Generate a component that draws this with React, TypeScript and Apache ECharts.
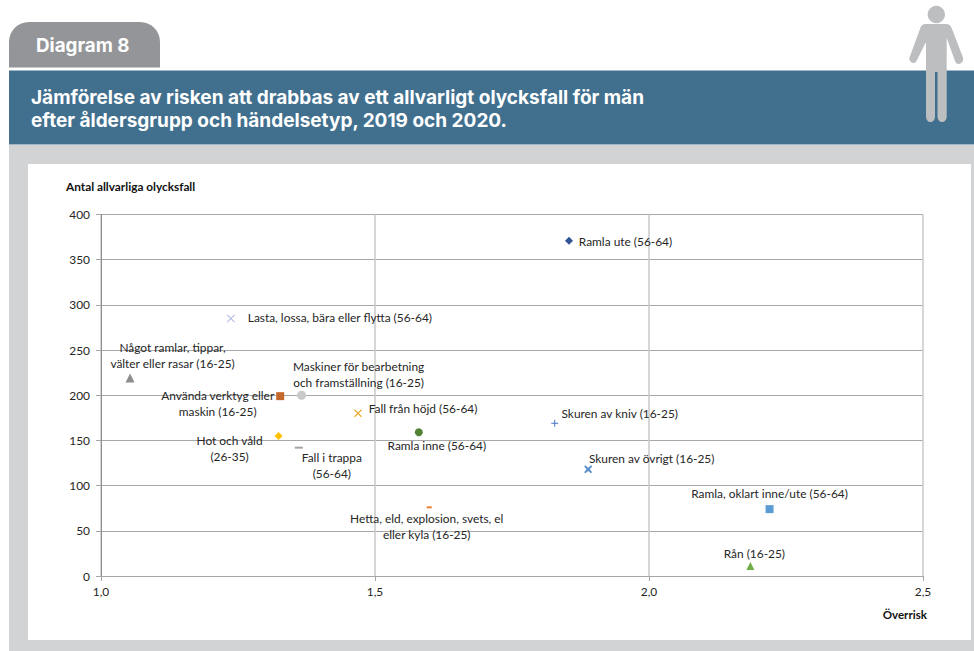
import React, { useEffect, useRef } from "react";
import * as echarts from "echarts";

const tabLabel = "Diagram 8";
const titleLines = [
  "Jämförelse av risken att drabbas av ett allvarligt olycksfall för män",
  "efter åldersgrupp och händelsetyp, 2019 och 2020.",
];
const yAxisTitle = "Antal allvarliga olycksfall";
const xAxisTitle = "Överrisk";

const pointLabels = [
  "Ramla ute (56-64)",
  "Lasta, lossa, bära eller flytta (56-64)",
  "Något ramlar, tippar,\nvälter eller rasar (16-25)",
  "Maskiner för bearbetning\noch framställning (16-25)",
  "Använda verktyg eller\nmaskin (16-25)",
  "Fall från höjd (56-64)",
  "Ramla inne (56-64)",
  "Hot och våld\n(26-35)",
  "Fall i trappa\n(56-64)",
  "Skuren av kniv (16-25)",
  "Skuren av övrigt (16-25)",
  "Ramla, oklart inne/ute (56-64)",
  "Hetta, eld, explosion, svets, el\neller kyla (16-25)",
  "Rån (16-25)",
];
const overRisk = [1.854, 1.237, 1.053, 1.366, 1.327, 1.469, 1.58, 1.324, 1.361, 1.828, 1.889, 2.22, 1.599, 2.185];
const accidents = [371, 285, 219, 200, 199, 180, 159, 155, 142, 169, 118, 74, 76, 11];

const X_PATH = "path://M1,0 L5,4 L9,0 L10,1 L6,5 L10,9 L9,10 L5,6 L1,10 L0,9 L4,5 L0,1 Z";
const PLUS_PATH = "path://M4.3,0 H5.7 V4.3 H10 V5.7 H5.7 V10 H4.3 V5.7 H0 V4.3 H4.3 Z";
const STAR_PATH = "path://M1.5,0 L5,3 L8.5,0 L10,1.5 L7,5 L10,8.5 L8.5,10 L5,7 L1.5,10 L0,8.5 L3,5 L0,1.5 Z";

type Mark = { symbol: string; size: number | number[]; color: string; offset: number[] };
const marks: Mark[] = [
  { symbol: "diamond", size: 8, color: "#2f5597", offset: [56.5, 0.5] },
  { symbol: X_PATH, size: 8, color: "#b4bce0", offset: [109, -1] },
  { symbol: "triangle", size: 9, color: "#8c8c8c", offset: [42.5, -23] },
  { symbol: "circle", size: 9, color: "#c9c9c9", offset: [57, -21] },
  { symbol: "rect", size: 8, color: "#c5682c", offset: [-62.5, 7] },
  { symbol: X_PATH, size: 8, color: "#e5a823", offset: [65, -5] },
  { symbol: "circle", size: 8, color: "#548235", offset: [18, 13.5] },
  { symbol: "diamond", size: 8, color: "#ffc000", offset: [-49, 12.5] },
  { symbol: "rect", size: [8, 2], color: "#a5a5a5", offset: [33, 17.5] },
  { symbol: PLUS_PATH, size: 7, color: "#4472c4", offset: [65, -10] },
  { symbol: STAR_PATH, size: 8, color: "#5b8fc7", offset: [63.5, -11] },
  { symbol: "rect", size: 8, color: "#5b9bd5", offset: [0, -15.5] },
  { symbol: "rect", size: [5, 2], color: "#ed7d31", offset: [-2.5, 19] },
  { symbol: "triangle", size: 8, color: "#70ad47", offset: [4, -12.5] },
];

const PERSON =
  "M926,116 L926,43 L925.5,43 L917,60 C915.5,64.5 911,63.5 909.5,60 C909,59 909.3,58 909.5,57.5 L920,29 C921,25.5 922.5,24 926,24 L946,24 C949,24 951,25.5 952,29 L963,57.5 C964,61.5 961,64 958.5,64 C956.5,64 955.5,62.5 955,61 L946.7,38 L946.7,116 C946.7,124 937.5,124 937.5,116 L937.5,72 L935,72 L935,116 C935,124 926,124 926,116 Z";
echarts.graphic.registerShape("personBody", echarts.graphic.extendPath(PERSON, {}) as any);

const FONT = "Lato, sans-serif";
const HEAD_FONT = "Inter, sans-serif";

export default function App() {
  const ref = useRef<HTMLDivElement>(null);
  useEffect(() => {
    const chart = echarts.init(ref.current!, undefined, { renderer: "svg" });
    chart.setOption({
      animation: false,
      backgroundColor: "#ffffff",
      grid: { left: 101, right: 51, top: 214.5, bottom: 75 },
      xAxis: {
        type: "value",
        min: 1,
        max: 2.5,
        interval: 0.5,
        axisLine: { show: true, onZero: false, lineStyle: { color: "#a6a6a6", width: 1 } },
        axisTick: { show: true, length: 5, lineStyle: { color: "#a6a6a6" } },
        axisLabel: { color: "#262626", fontFamily: FONT, fontSize: 11.9, margin: 9, formatter: (v: number) => v.toFixed(1).replace(".", ",") },
        splitLine: { show: true, lineStyle: { color: "#c8c8c8", width: 1.5 } },
        name: xAxisTitle,
        nameLocation: "end",
        nameGap: 4,
        nameTextStyle: { color: "#111", fontFamily: FONT, fontSize: 11.6, fontWeight: "bold", align: "right", verticalAlign: "top", padding: [32, 0, 0, 0] },
      },
      yAxis: {
        type: "value",
        min: 0,
        max: 400,
        interval: 50,
        axisLine: { show: true, lineStyle: { color: "#8c8c8c", width: 1 } },
        axisTick: { show: true, length: 5, lineStyle: { color: "#a6a6a6" } },
        axisLabel: { color: "#262626", fontFamily: FONT, fontSize: 11.9, margin: 11 },
        splitLine: { show: true, lineStyle: { color: "#a8a8a8", width: 1.2 } },
        name: yAxisTitle,
        nameLocation: "end",
        nameGap: 22,
        nameTextStyle: { color: "#111", fontFamily: FONT, fontSize: 11.8, fontWeight: "bold", align: "left", padding: [0, 0, 0, -35] },
      },
      graphic: [
        { type: "rect", z: -10, shape: { x: 9, y: 145, width: 965, height: 506 }, style: { fill: "#d1d3d4" } },
        { type: "rect", z: -9, shape: { x: 28, y: 164, width: 943, height: 476 }, style: { fill: "#ffffff" } },
        { type: "rect", z: -9, shape: { x: 9, y: 70.5, width: 965, height: 74 }, style: { fill: "#41708f" } },
        { type: "rect", z: -9, shape: { x: 9, y: 22, width: 151, height: 45.5, r: [20, 20, 0, 0] }, style: { fill: "#939598" } },
        { type: "text", z: 5, style: { x: 36, y: 45, text: tabLabel, fill: "#ffffff", font: `700 18.8px ${HEAD_FONT}`, textVerticalAlign: "middle" } },
        { type: "text", z: 5, style: { x: 31, y: 97, text: titleLines[0], fill: "#ffffff", font: `700 19px ${HEAD_FONT}`, textVerticalAlign: "middle" } },
        { type: "text", z: 5, style: { x: 31, y: 120, text: titleLines[1], fill: "#ffffff", font: `700 19px ${HEAD_FONT}`, textVerticalAlign: "middle" } },
        { type: "personBody", z: 6, style: { fill: "#bcbec0" } },
        { type: "circle", z: 6, shape: { cx: 936.3, cy: 14.5, r: 8.7 }, style: { fill: "#bcbec0" } },
      ],
      series: pointLabels.map((label, i) => ({
        type: "scatter",
        name: label,
        symbol: marks[i].symbol,
        symbolSize: marks[i].size,
        itemStyle: { color: marks[i].color, opacity: 1 },
        data: [[overRisk[i], accidents[i]]],
        label: {
          show: true,
          formatter: label,
          position: "inside",
          offset: marks[i].offset,
          color: "#262626",
          fontFamily: FONT,
          fontSize: 11.9,
          lineHeight: 16,
          align: "center",
          verticalAlign: "middle",
        },
      })),
    });
    return () => chart.dispose();
  }, []);
  return <div ref={ref} style={{ position: "fixed", left: 0, top: 0, width: 974, height: 651 }} />;
}
